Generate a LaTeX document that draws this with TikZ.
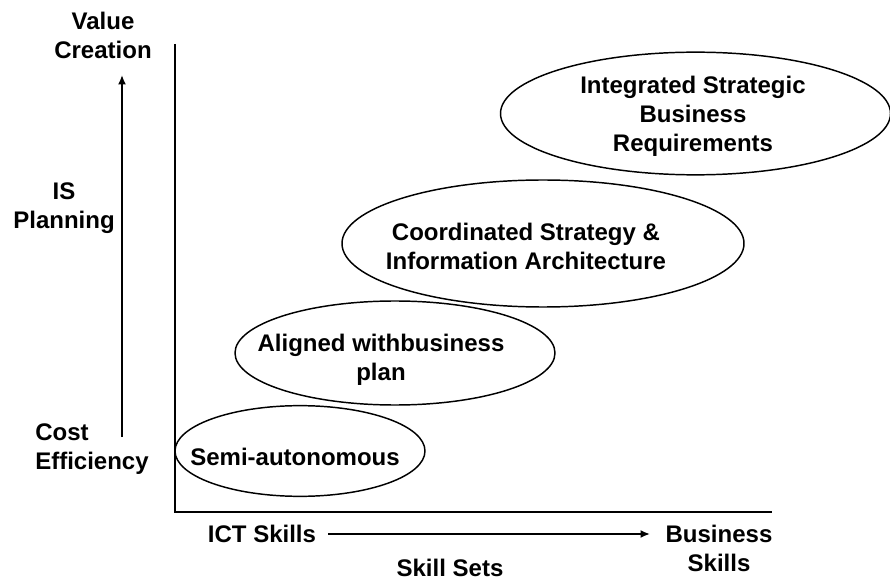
\documentclass[tikz,border=0pt]{standalone}
\usepackage{fontspec}
\setmainfont{Liberation Sans}
\usetikzlibrary{shapes.geometric,arrows.meta}
\begin{document}
\begin{tikzpicture}[x=0.75pt,y=-0.75pt,
  lbl/.style={font=\bfseries\fontsize{18}{21.8}\selectfont, align=center, inner sep=0pt},
  oval/.style={draw, ellipse, line width=1.1pt, inner sep=0pt},
  axis/.style={line width=2.2pt},
  arr/.style={line width=1.4pt, -{Latex[length=7pt,width=6pt]}}]
\useasboundingbox (0,0) rectangle (890,581);
% ellipses
\node[oval, minimum width=187.5pt, minimum height=68pt] (e1) at (300,451) {};
\node[oval, minimum width=240pt, minimum height=78pt] (e2) at (395,353) {};
\node[oval, minimum width=301.5pt, minimum height=95.25pt] (e3) at (543,243.5) {};
\node[oval, minimum width=292.5pt, minimum height=92pt] (e4) at (695.5,113.5) {};
% ellipse texts
\node[lbl] (t1) at (295,457) {Semi-autonomous};
\node[lbl] (t2) at (381,360) {Aligned withbusiness\\plan};
\node[lbl] (t3) at (526,246) {Coordinated Strategy \&\\Information Architecture};
\node[lbl] (t4) at (693,116) {Integrated Strategic\\Business\\Requirements};
% axes
\coordinate (top) at (175,44);
\coordinate (orig) at (175,512);
\coordinate (right) at (772,512);
\draw[axis] (top) -- (orig) -- (right);
% labels
\node[lbl] (vc) at (103,35) {Value\\Creation};
\node[lbl] (isp) at (64,208) {IS\\Planning};
\node[lbl, align=left, anchor=west] (ce) at (35,449) {Cost\\Efficiency};
\node[lbl] (ict) at (262,534) {ICT Skills};
\node[lbl] (bs) at (719,548) {Business\\Skills};
\node[lbl] (ss) at (450,568) {Skill Sets};
% arrows
\coordinate (va) at (122,437);
\coordinate (vb) at (122,75);
\draw[arr] (va) -- (vb);
\draw[arr] (ict.east) ++(12,0) coordinate (ha) -- (650,534) coordinate (hb);
\end{tikzpicture}
\end{document}
